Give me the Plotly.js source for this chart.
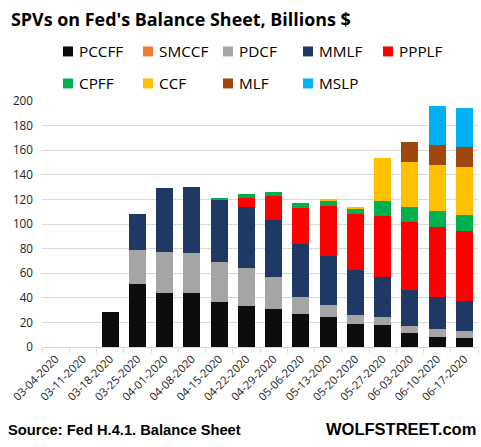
<!DOCTYPE html>
<html><head><meta charset="utf-8">
<script src="https://cdn.plot.ly/plotly-3.0.1.min.js"></script>
<style>html,body{margin:0;padding:0;background:#fff}</style></head>
<body><div id="chart" style="width:481px;height:447px"></div>
<script>
const dates=["03-04-2020","03-11-2020","03-18-2020","03-25-2020","04-01-2020","04-08-2020","04-15-2020","04-22-2020","04-29-2020","05-06-2020","05-13-2020","05-20-2020","05-27-2020","06-03-2020","06-10-2020","06-17-2020"];
const PCCFF=[0,0,28.3,51,43.7,43.7,36.5,33.7,31.3,26.5,24,19,17.5,11,7.8,7];
const SMCCF=[0,0,0,0,0,0,0,0,0,0,0,0,0,0,0,0];
const PDCF=[0,0,0,27.5,33.3,32.5,33,30.8,26,14.5,10.5,7.4,6.5,5.7,6.5,5.7];
const MMLF=[0,0,0,30,51.9,53.5,50.5,49.5,46.2,43,39.8,36.4,33.3,30,26.7,24.3];
const PPPLF=[0,0,0,0,0,0,0,7.3,19.4,29.2,40.5,45.4,49.4,55.2,56.8,57.5];
const CPFF=[0,0,0,0,0,0,0.8,3.2,3.3,4.1,4.1,4.1,12.2,12.1,13,13];
const CCF=[0,0,0,0,0,0,0,0,0,0,0.8,1.6,34.8,36.5,37.3,39];
const MLF=[0,0,0,0,0,0,0,0,0,0,0,0,0,16.2,16.2,16];
const MSLP=[0,0,0,0,0,0,0,0,0,0,0,0,0,0,31.6,31.8];
const names=["PCCFF","SMCCF","PDCF","MMLF","PPPLF","CPFF","CCF","MLF","MSLP"];
const series=[PCCFF,SMCCF,PDCF,MMLF,PPPLF,CPFF,CCF,MLF,MSLP];
const colors=["#0d0d0d","#ed7d31","#a5a5a5","#1f3864","#ff0000","#00b050","#ffc000","#9e480e","#00b0f0"];
const data=names.map((n,i)=>({type:"bar",name:n,x:dates,y:series[i],marker:{color:colors[i],line:{width:0}}}));
const layout={
  width:481,height:447,autosize:false,
  paper_bgcolor:"#fff",plot_bgcolor:"#fff",
  margin:{l:41.5,r:3,t:101,b:99.5,autoexpand:false},
  barmode:"stack",bargap:0.375,
  font:{family:"'Open Sans',sans-serif",color:"#222"},
  title:{text:"<b>SPVs on Fed's Balance Sheet, Billions $</b>",x:11/481,xanchor:"left",y:1-20/447,yanchor:"middle",font:{family:"'Open Sans',sans-serif",size:17.9,color:"#000"}},
  xaxis:{type:"category",categoryorder:"array",categoryarray:dates,tickson:"boundaries",ticks:"outside",ticklen:5,tickwidth:1,tickcolor:"#d9d9d9",showline:true,linecolor:"#d9d9d9",linewidth:1,showgrid:false,tickangle:-45,tickfont:{size:11.3,color:"#222"},automargin:false},
  yaxis:{range:[0,200],dtick:20,showgrid:true,gridcolor:"#d9d9d9",gridwidth:1.2,zeroline:false,showline:false,ticks:"",ticklabelstandoff:8,tickfont:{size:11.7,color:"#222"},automargin:false},
  showlegend:true,
  legend:{orientation:"h",traceorder:"normal",x:39/481,xanchor:"left",y:1-35/447,yanchor:"top",yref:"container",xref:"container",entrywidth:35,entrywidthmode:"pixels",font:{size:15.3,color:"#000"},bgcolor:"rgba(0,0,0,0)"},
  annotations:[
    {text:"<b>Source: Fed H.4.1. Balance Sheet</b>",xref:"paper",yref:"paper",x:-36.5/436.5,y:-(430.5-347.5)/246,xanchor:"left",yanchor:"middle",showarrow:false,font:{family:"'Liberation Sans',sans-serif",size:14.7,color:"#000"}},
    {text:"<b>WOLFSTREET.com</b>",xref:"paper",yref:"paper",x:436.5/436.5,y:-(429.5-347.5)/246,xanchor:"right",yanchor:"middle",showarrow:false,font:{family:"'Liberation Sans',sans-serif",size:16.5,color:"#000"}}
  ]
};
Plotly.newPlot("chart",data,layout,{displayModeBar:false,responsive:false}).then(function(gd){
  const sb=gd.querySelector(".legend .scrollbox");
  if(sb) sb.removeAttribute("clip-path");
  const legend=gd.querySelector(".legend");
  if(legend) legend.removeAttribute("clip-path");
  const rowGap=32;
  const tr=[...gd.querySelectorAll(".legend .traces")];
  const ys=[...new Set(tr.map(t=>t.getAttribute("transform").match(/,\s*([-\d.]+)/)[1]))];
  tr.forEach(t=>{
    const m=t.getAttribute("transform").match(/translate\(([-\d.]+),\s*([-\d.]+)\)/);
    const row=ys.indexOf(m[2]);
    t.setAttribute("transform","translate("+m[1]+","+(parseFloat(ys[0])+row*rowGap)+")");
    const lp=t.querySelector(".legendpoints");
    if(lp) lp.setAttribute("transform","translate(12.4,0) scale(0.83)");
  });
});
</script></body></html>
